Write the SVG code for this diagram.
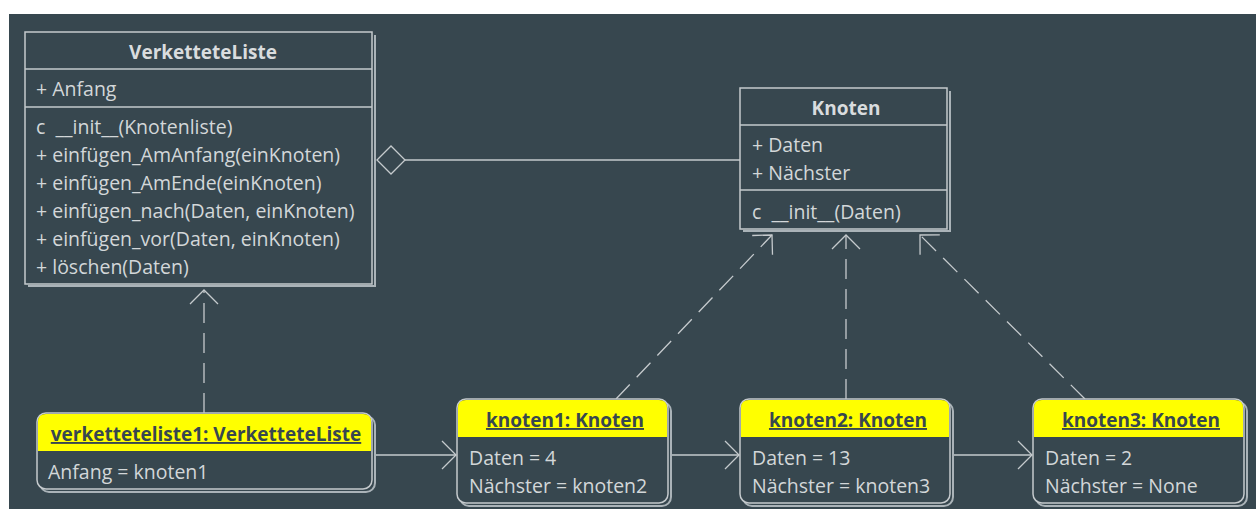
<svg xmlns="http://www.w3.org/2000/svg" width="1256" height="509" viewBox="0 0 1256 509">
  <style>
    .bg { fill: #37474f; }
    .box { fill: #37474f; stroke: #c5cacd; stroke-width: 1.5; }
    .shadow { fill: none; stroke: #aab3b8; stroke-width: 2; }
    .div { stroke: #c5cacd; stroke-width: 1.5; }
    .txt { font-family: "Open Sans", "Noto Sans", sans-serif; font-size: 19.5px; fill: #d3d7d9; white-space: pre; }
    .title { font-family: "Open Sans", "Noto Sans", sans-serif; font-size: 19px; font-weight: bold; fill: #d9dcde; text-anchor: middle; }
    .head { fill: #ffff00; }
    .otitle { font-family: "Open Sans", "Noto Sans", sans-serif; font-size: 19px; font-weight: bold; fill: #37474f; text-anchor: middle; text-decoration: underline; }
    .link { fill: none; stroke: #c5cacd; stroke-width: 1.3; }
    .dep { fill: none; stroke: #c5cacd; stroke-width: 1.3; stroke-dasharray: 20 10; }
  </style>
  <defs>
    <marker id="open" markerUnits="userSpaceOnUse" markerWidth="40" markerHeight="40" refX="0" refY="0" viewBox="-20 -20 40 40" orient="auto" overflow="visible">
      <path d="M -14 -14 L 0 0 L -14 14" fill="none" stroke="#c5cacd" stroke-width="1.3"/>
    </marker>
  </defs>

  <rect x="0" y="0" width="1256" height="509" fill="#ffffff"/>
  <rect class="bg" x="9" y="14" width="1247" height="495"/>

  <!-- connectors -->
  <g id="connectors">
    <!-- aggregation VerketteteListe <>- Knoten -->
    <line class="link" x1="405" y1="160" x2="740" y2="160"/>
    <path d="M 377 160 L 391 146 L 405 160 L 391 174 Z" fill="#37474f" stroke="#c5cacd" stroke-width="1.3"/>
    <!-- instance-of dependencies -->
    <line class="dep" x1="204" y1="413" x2="204" y2="290" marker-end="url(#open)"/>
    <line class="dep" x1="616" y1="399" x2="772" y2="235" marker-end="url(#open)"/>
    <line class="dep" x1="846" y1="399" x2="846" y2="235" marker-end="url(#open)"/>
    <line class="dep" x1="1085" y1="399" x2="920" y2="235" marker-end="url(#open)"/>
    <!-- object links -->
    <line class="link" x1="374" y1="455" x2="456" y2="455" marker-end="url(#open)"/>
    <line class="link" x1="670" y1="455" x2="739" y2="455" marker-end="url(#open)"/>
    <line class="link" x1="952" y1="455" x2="1032" y2="455" marker-end="url(#open)"/>
  </g>

  <!-- class VerketteteListe -->
  <g id="VerketteteListe">
    <polyline class="shadow" points="375,35 375,286 28,286"/>
    <rect class="box" x="25" y="32" width="347" height="252"/>
    <line class="div" x1="25" y1="69" x2="372" y2="69"/>
    <line class="div" x1="25" y1="107" x2="372" y2="107"/>
    <text class="title" x="203" y="59">VerketteteListe</text>
    <text class="txt" x="36" y="96">+ Anfang</text>
    <text class="txt" x="36" y="134">c  __init__(Knotenliste)</text>
    <text class="txt" x="36" y="162">+ einfügen_AmAnfang(einKnoten)</text>
    <text class="txt" x="36" y="190">+ einfügen_AmEnde(einKnoten)</text>
    <text class="txt" x="36" y="218">+ einfügen_nach(Daten, einKnoten)</text>
    <text class="txt" x="36" y="246">+ einfügen_vor(Daten, einKnoten)</text>
    <text class="txt" x="36" y="274">+ löschen(Daten)</text>
  </g>

  <!-- class Knoten -->
  <g id="Knoten">
    <polyline class="shadow" points="950,91 950,231 743,231"/>
    <rect class="box" x="740" y="88" width="207" height="141"/>
    <line class="div" x1="740" y1="125" x2="947" y2="125"/>
    <line class="div" x1="740" y1="190" x2="947" y2="190"/>
    <text class="title" x="846" y="115">Knoten</text>
    <text class="txt" x="752" y="152">+ Daten</text>
    <text class="txt" x="752" y="180">+ Nächster</text>
    <text class="txt" x="752" y="219">c  __init__(Daten)</text>
  </g>

  <!-- object verketteteliste1 -->
  <g id="verketteteliste1">
    <rect class="shadow" x="40" y="416" width="335" height="76" rx="9"/>
    <rect class="box" x="37" y="413" width="335" height="76" rx="9"/>
    <path class="head" d="M 38 451 L 38 422 Q 38 414 46 414 L 363 414 Q 371 414 371 422 L 371 451 Z"/>
    <text class="otitle" x="206" y="441">verketteteliste1: VerketteteListe</text>
    <text class="txt" x="48" y="479">Anfang = knoten1</text>
  </g>

  <!-- object knoten1 -->
  <g id="knoten1">
    <rect class="shadow" x="460" y="402" width="211" height="104" rx="9"/>
    <rect class="box" x="457" y="399" width="211" height="104" rx="9"/>
    <path class="head" d="M 458 437 L 458 408 Q 458 400 466 400 L 659 400 Q 667 400 667 408 L 667 437 Z"/>
    <text class="otitle" x="565" y="427">knoten1: Knoten</text>
    <text class="txt" x="469" y="465">Daten = 4</text>
    <text class="txt" x="469" y="493">Nächster = knoten2</text>
  </g>

  <!-- object knoten2 -->
  <g id="knoten2">
    <rect class="shadow" x="743" y="402" width="210" height="104" rx="9"/>
    <rect class="box" x="740" y="399" width="210" height="104" rx="9"/>
    <path class="head" d="M 741 437 L 741 408 Q 741 400 749 400 L 941 400 Q 949 400 949 408 L 949 437 Z"/>
    <text class="otitle" x="848" y="427">knoten2: Knoten</text>
    <text class="txt" x="752" y="465">Daten = 13</text>
    <text class="txt" x="752" y="493">Nächster = knoten3</text>
  </g>

  <!-- object knoten3 -->
  <g id="knoten3">
    <rect class="shadow" x="1036" y="402" width="211" height="104" rx="9"/>
    <rect class="box" x="1033" y="399" width="211" height="104" rx="9"/>
    <path class="head" d="M 1034 437 L 1034 408 Q 1034 400 1042 400 L 1235 400 Q 1243 400 1243 408 L 1243 437 Z"/>
    <text class="otitle" x="1141" y="427">knoten3: Knoten</text>
    <text class="txt" x="1045" y="465">Daten = 2</text>
    <text class="txt" x="1045" y="493">Nächster = None</text>
  </g>
</svg>
